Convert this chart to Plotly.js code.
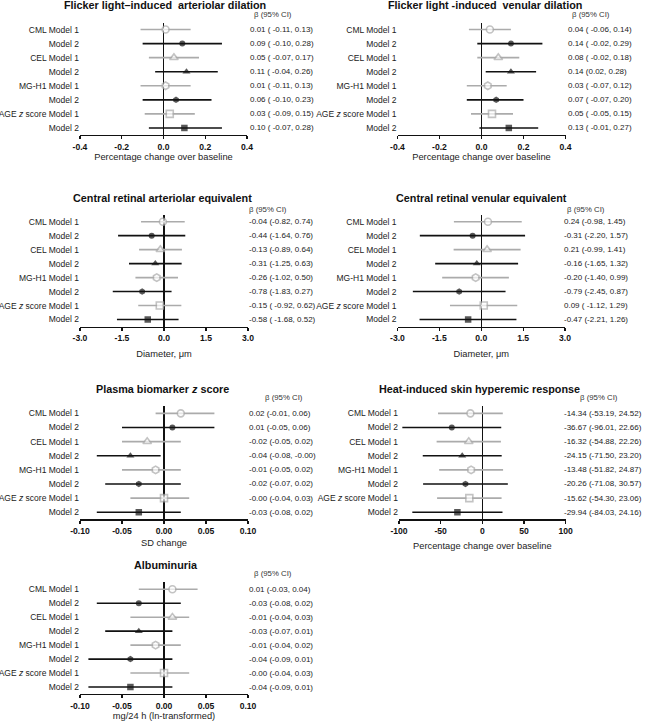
<!DOCTYPE html>
<html>
<head>
<meta charset="utf-8">
<script src="https://cdn.plot.ly/plotly-3.0.1.min.js"></script>
<style>html,body{margin:0;padding:0;background:#fff;}#chart{width:646px;height:721px;}</style>
</head>
<body>
<div id="chart"></div>
<script>
// ---------- DATA ----------
const rowLabels = ["CML Model 1", "Model 2", "CEL Model 1", "Model 2", "MG-H1 Model 1", "Model 2", "AGE <i>z</i> score Model 1", "Model 2"];
const rows = [1, 2, 3, 4, 5, 6, 7, 8];

const panelTitles = [
  "Flicker light\u2013induced  arteriolar dilation",
  "Flicker light -induced  venular dilation",
  "Central retinal arteriolar equivalent",
  "Central retinal venular equivalent",
  "Plasma biomarker <i>z</i> score",
  "Heat-induced skin hyperemic response",
  "Albuminuria"
];
const axisTitles = [
  "Percentage change over baseline",
  "Percentage change over baseline",
  "Diameter, \u03bcm",
  "Diameter, \u03bcm",
  "SD change",
  "Percentage change over baseline",
  "mg/24 h (ln-transformed)"
];
const headerText = "\u03b2 (95% CI)";

// Flicker light-induced arteriolar dilation
const artEst = [0.01, 0.09, 0.05, 0.11, 0.01, 0.06, 0.03, 0.10];
const artLo  = [-0.11, -0.10, -0.07, -0.04, -0.11, -0.10, -0.09, -0.07];
const artHi  = [0.13, 0.28, 0.17, 0.26, 0.13, 0.23, 0.15, 0.28];
const artTxt = ["0.01 ( -0.11, 0.13)", "0.09 ( -0.10, 0.28)", "0.05 ( -0.07, 0.17)", "0.11 ( -0.04, 0.26)",
                "0.01 ( -0.11, 0.13)", "0.06 ( -0.10, 0.23)", "0.03 ( -0.09, 0.15)", "0.10 ( -0.07, 0.28)"];

// Flicker light-induced venular dilation
const venEst = [0.04, 0.14, 0.08, 0.14, 0.03, 0.07, 0.05, 0.13];
const venLo  = [-0.06, -0.02, -0.02, 0.02, -0.07, -0.07, -0.05, -0.01];
const venHi  = [0.14, 0.29, 0.18, 0.26, 0.12, 0.20, 0.15, 0.27];
const venTxt = ["0.04 ( -0.06, 0.14)", "0.14 ( -0.02, 0.29)", "0.08 ( -0.02, 0.18)", "0.14 (0.02, 0.28)",
                "0.03 ( -0.07, 0.12)", "0.07 ( -0.07, 0.20)", "0.05 ( -0.05, 0.15)", "0.13 ( -0.01, 0.27)"];

// Central retinal arteriolar equivalent
const craeEst = [-0.04, -0.44, -0.13, -0.31, -0.26, -0.78, -0.15, -0.58];
const craeLo  = [-0.82, -1.64, -0.89, -1.25, -1.02, -1.83, -0.92, -1.68];
const craeHi  = [0.74, 0.76, 0.64, 0.63, 0.50, 0.27, 0.62, 0.52];
const craeTxt = ["-0.04 (-0.82, 0.74)", "-0.44 (-1.64, 0.76)", "-0.13 (-0.89, 0.64)", "-0.31 (-1.25, 0.63)",
                 "-0.26 (-1.02, 0.50)", "-0.78 (-1.83, 0.27)", "-0.15 ( -0.92, 0.62)", "-0.58 ( -1.68, 0.52)"];

// Central retinal venular equivalent
const crveEst = [0.24, -0.31, 0.21, -0.16, -0.20, -0.79, 0.09, -0.47];
const crveLo  = [-0.98, -2.20, -0.99, -1.65, -1.40, -2.45, -1.12, -2.21];
const crveHi  = [1.45, 1.57, 1.41, 1.32, 0.99, 0.87, 1.29, 1.26];
const crveTxt = ["0.24 (-0.98, 1.45)", "-0.31 (-2.20, 1.57)", "0.21 (-0.99, 1.41)", "-0.16 (-1.65, 1.32)",
                 "-0.20 (-1.40, 0.99)", "-0.79 (-2.45, 0.87)", "0.09 ( -1.12, 1.29)", "-0.47 (-2.21, 1.26)"];

// Plasma biomarker z score
const plasEst = [0.02, 0.01, -0.02, -0.04, -0.01, -0.03, 0.00, -0.03];
const plasLo  = [-0.01, -0.05, -0.05, -0.08, -0.05, -0.07, -0.04, -0.08];
const plasHi  = [0.06, 0.06, 0.02, -0.004, 0.02, 0.02, 0.03, 0.02];
const plasTxt = ["0.02 (-0.01, 0.06)", "0.01 (-0.05, 0.06)", "-0.02 (-0.05, 0.02)", "-0.04 (-0.08, -0.00)",
                 "-0.01 (-0.05, 0.02)", "-0.02 (-0.07, 0.02)", "-0.00 (-0.04, 0.03)", "-0.03 (-0.08, 0.02)"];

// Heat-induced skin hyperemic response
const heatEst = [-14.34, -36.67, -16.32, -24.15, -13.48, -20.26, -15.62, -29.94];
const heatLo  = [-53.19, -96.01, -54.88, -71.50, -51.82, -71.08, -54.30, -84.03];
const heatHi  = [24.52, 22.66, 22.26, 23.20, 24.87, 30.57, 23.06, 24.16];
const heatTxt = ["-14.34 (-53.19, 24.52)", "-36.67 (-96.01, 22.66)", "-16.32 (-54.88, 22.26)", "-24.15 (-71.50, 23.20)",
                 "-13.48 (-51.82, 24.87)", "-20.26 (-71.08, 30.57)", "-15.62 (-54.30, 23.06)", "-29.94 (-84.03, 24.16)"];

// Albuminuria
const albEst = [0.01, -0.03, 0.01, -0.03, -0.01, -0.04, 0.00, -0.04];
const albLo  = [-0.03, -0.08, -0.04, -0.07, -0.04, -0.09, -0.04, -0.09];
const albHi  = [0.04, 0.02, 0.03, 0.01, 0.02, 0.01, 0.03, 0.01];
const albTxt = ["0.01 (-0.03, 0.04)", "-0.03 (-0.08, 0.02)", "-0.01 (-0.04, 0.03)", "-0.03 (-0.07, 0.01)",
                "-0.01 (-0.04, 0.02)", "-0.04 (-0.09, 0.01)", "-0.00 (-0.04, 0.03)", "-0.04 (-0.09, 0.01)"];

// x tick values / labels
const tickFlickV = [-0.4, -0.2, 0, 0.2, 0.4];
const tickFlickT = ["-0.4", "-0.2", "0.0", "0.2", "0.4"];
const tickDiamV = [-3, -1.5, 0, 1.5, 3];
const tickDiamT = ["-3.0", "-1.5", "0.0", "1.5", "3.0"];
const tickSmallV = [-0.1, -0.05, 0, 0.05, 0.1];
const tickSmallT = ["-0.10", "-0.05", "0.00", "0.05", "0.10"];
const tickHeatV = [-100, -50, 0, 50, 100];
const tickHeatT = ["-100", "-50", "0", "50", "100"];

// ---------- LAYOUT / STYLE ----------
const W = 646, H = 721;
const fx = p => p / W;
const fy = p => 1 - p / H;
const FONT = "Liberation Sans, Arial, Helvetica, sans-serif";
const GRAY = "#ababab";
const DARK = "#111111";

const panels = [
  {est: artEst, lo: artLo, hi: artHi, txt: artTxt, tv: tickFlickV, tt: tickFlickT, range: [-0.4, 0.4],
   xd: [80, 247], yd: [22.5, 135], tX: 165, tY: 5.5, bX: 252, bY: 15, vX: 247.5, st: 3},
  {est: venEst, lo: venLo, hi: venHi, txt: venTxt, tv: tickFlickV, tt: tickFlickT, range: [-0.4, 0.4],
   xd: [397.5, 565.5], yd: [22.5, 135], tX: 485, tY: 5.5, bX: 570, bY: 15, vX: 565.5, st: 3},
  {est: craeEst, lo: craeLo, hi: craeHi, txt: craeTxt, tv: tickDiamV, tt: tickDiamT, range: [-3, 3],
   xd: [80, 248], yd: [214.7, 326.5], tX: 162, tY: 197.5, bX: 247, bY: 209, vX: 246.5, st: 8.5},
  {est: crveEst, lo: crveLo, hi: crveHi, txt: crveTxt, tv: tickDiamV, tt: tickDiamT, range: [-3, 3],
   xd: [397.5, 565], yd: [214.7, 326.5], tX: 481, tY: 197.5, bX: 565, bY: 209, vX: 562, st: 8.5},
  {est: plasEst, lo: plasLo, hi: plasHi, txt: plasTxt, tv: tickSmallV, tt: tickSmallT, range: [-0.1, 0.1],
   xd: [80, 248], yd: [406.3, 519.3], tX: 162, tY: 388.5, bX: 263, bY: 397, vX: 246.5, st: 4.5},
  {est: heatEst, lo: heatLo, hi: heatHi, txt: heatTxt, tv: tickHeatV, tt: tickHeatT, range: [-100, 100],
   xd: [399, 565.7], yd: [406.3, 519.3], tX: 479, tY: 388.5, bX: 578, bY: 397, vX: 561.5, st: 7},
  {est: albEst, lo: albLo, hi: albHi, txt: albTxt, tv: tickSmallV, tt: tickSmallT, range: [-0.1, 0.1],
   xd: [80, 248], yd: [582.3, 694], tX: 166, tY: 565, bX: 251.5, bY: 573.5, vX: 246.5, st: 4}
];

const symM1 = ["circle", "triangle-up", "hexagon", "square"];
const symM2 = ["circle", "triangle-up", "hexagon", "square"];

const traces = [];
const layout = {
  width: W, height: H,
  margin: {l: 0, r: 0, t: 0, b: 0},
  paper_bgcolor: "#fff", plot_bgcolor: "rgba(0,0,0,0)",
  showlegend: false,
  font: {family: FONT, color: "#222"},
  annotations: []
};

panels.forEach((p, i) => {
  const n = i === 0 ? "" : String(i + 1);
  const xa = "x" + n, ya = "y" + n;
  const i1 = [0, 2, 4, 6], i2 = [1, 3, 5, 7];
  const mk = (idx, isM1) => ({
    type: "scatter", mode: "markers", xaxis: xa, yaxis: ya, cliponaxis: false, hoverinfo: "skip",
    x: idx.map(k => p.est[k]), y: idx.map(k => rows[k]),
    error_x: {type: "data", symmetric: false,
      array: idx.map(k => p.hi[k] - p.est[k]), arrayminus: idx.map(k => p.est[k] - p.lo[k]),
      width: 0, thickness: 1.6, color: isM1 ? GRAY : DARK},
    marker: isM1
      ? {symbol: symM1, size: [7, 7.5, 7.5, 7], color: "#fff", line: {color: GRAY, width: 1.6}}
      : {symbol: symM2, size: [6, 7, 6.5, 6.5], color: DARK, line: {width: 0}}
  });
  traces.push(mk(i1, true), mk(i2, false));

  layout["xaxis" + n] = {
    domain: [fx(p.xd[0]), fx(p.xd[1])], anchor: ya, range: p.range,
    tickvals: p.tv, ticktext: p.tt, ticks: "outside", ticklen: 3, tickwidth: 1.2, tickcolor: "#111",
    showline: true, linecolor: "#111", linewidth: 1.2, showgrid: false,
    zeroline: true, zerolinecolor: "#111", zerolinewidth: 1.2,
    tickfont: {family: FONT, size: 8.6, color: "#111", weight: "bold"},
    title: {text: axisTitles[i], font: {family: FONT, size: 9.3, color: "#222"}, standoff: p.st},
    fixedrange: true
  };
  layout["yaxis" + n] = {
    domain: [fy(p.yd[1]), fy(p.yd[0])], anchor: xa, range: [8.5, 0.5],
    tickvals: rows, ticktext: rowLabels, ticks: "", showline: false, showgrid: false, zeroline: false,
    tickfont: {family: FONT, size: 8.5, color: "#222"}, ticklabelstandoff: 1.5, fixedrange: true
  };

  layout.annotations.push({
    xref: "paper", yref: "paper", x: fx(p.tX), y: fy(p.tY), xanchor: "center", yanchor: "middle",
    text: "<b>" + panelTitles[i] + "</b>", showarrow: false, font: {family: FONT, size: 10.8, color: "#111"}
  });
  layout.annotations.push({
    xref: "paper", yref: "paper", x: fx(p.bX), y: fy(p.bY), xanchor: "left", yanchor: "middle",
    text: headerText, showarrow: false, font: {family: FONT, size: 7.8, color: "#333"}
  });
  p.txt.forEach((t, k) => {
    layout.annotations.push({
      xref: "paper", yref: ya, x: fx(p.vX), y: rows[k], xanchor: "left", yanchor: "middle",
      text: t, showarrow: false, font: {family: FONT, size: 8, color: "#222"}
    });
  });
});

Plotly.newPlot("chart", traces, layout, {staticPlot: true, displayModeBar: false});
</script>
</body>
</html>
